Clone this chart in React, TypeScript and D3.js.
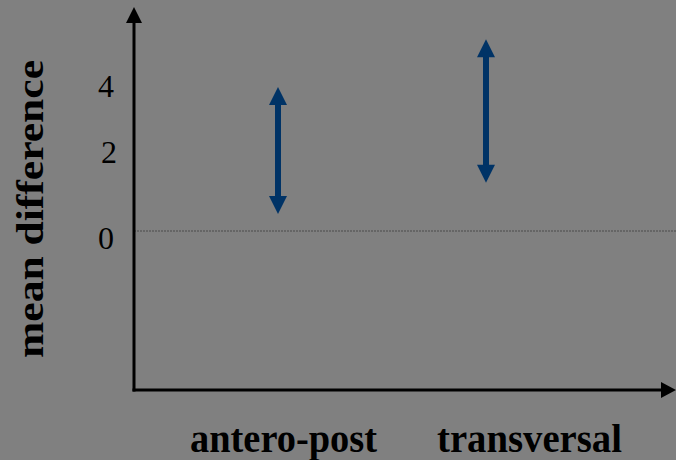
import React from "react";
import * as d3 from "d3";

const categories: string[] = ["antero-post", "transversal"];
const lowerValues: number[] = [0.46, 1.31];
const upperValues: number[] = [3.92, 5.22];
const yTicks: number[] = [0, 2, 4];
const yLabel = "mean difference";

const W = 676;
const H = 460;
const AXIS_X = 134;
const AXIS_Y = 390;
const NAVY = "#003366";
const FONT = "'Liberation Serif', 'Times New Roman', serif";

export default function App() {
  const y = d3.scaleLinear().domain([0, 4]).range([231, 84]);
  // tick-label placement as laid out in the original (slightly uneven)
  const yLab = d3.scaleLinear().domain([0, 2, 4]).range([238, 152, 86]);
  const x = d3.scaleLinear().domain([0, 1]).range([278, 486]);
  const labelX = d3.scaleLinear().domain([0, 1]).range([283.5, 529.5]);
  const labelLen = [187, 185];

  const head = 18;
  const headW = 9;

  const arrow = (cx: number, top: number, bottom: number, key: number) => {
    const upPath = d3.path();
    upPath.moveTo(cx, top);
    upPath.lineTo(cx - headW, top + head);
    upPath.lineTo(cx + headW, top + head);
    upPath.closePath();
    const downPath = d3.path();
    downPath.moveTo(cx, bottom);
    downPath.lineTo(cx - headW, bottom - head);
    downPath.lineTo(cx + headW, bottom - head);
    downPath.closePath();
    return (
      <g key={key}>
        <line x1={cx} x2={cx} y1={top + head - 1} y2={bottom - head + 1} stroke={NAVY} strokeWidth={6} />
        <path d={upPath.toString()} fill={NAVY} />
        <path d={downPath.toString()} fill={NAVY} />
      </g>
    );
  };

  return (
    <svg
      width={W}
      height={H}
      style={{ position: "absolute", left: 0, top: 0, display: "block" }}
    >
      <rect x={0} y={0} width={W} height={H} fill="#808080" />
      {/* zero line */}
      <line x1={AXIS_X} x2={W} y1={y(0)} y2={y(0)} stroke="#4a4a4a" strokeWidth={1} strokeDasharray="2,1" />
      {/* y axis */}
      <line x1={AXIS_X} x2={AXIS_X} y1={20} y2={AXIS_Y + 1.5} stroke="#000" strokeWidth={3} />
      <path d={`M${AXIS_X},7 L${AXIS_X - 8},23 L${AXIS_X + 8},23 Z`} fill="#000" />
      {/* x axis */}
      <line x1={AXIS_X - 1.5} x2={W - 12} y1={AXIS_Y} y2={AXIS_Y} stroke="#000" strokeWidth={3} />
      <path d={`M${W},${AXIS_Y} L${W - 15},${AXIS_Y - 8} L${W - 15},${AXIS_Y + 8} Z`} fill="#000" />
      {/* y tick labels */}
      {yTicks.map((t) => (
        <text
          key={t}
          x={t === 2 ? 117 : 114}
          y={yLab(t)}
          textAnchor="end"
          dominantBaseline="central"
          fontFamily={FONT}
          fontSize={32}
          fill="#000"
        >
          {t}
        </text>
      ))}
      {/* arrows */}
      {categories.map((_, i) => arrow(x(i), y(upperValues[i]), y(lowerValues[i]), i))}
      {/* x labels */}
      {categories.map((c, i) => (
        <text
          key={c}
          x={labelX(i) - labelLen[i] / 2}
          y={452}
          textLength={labelLen[i]}
          lengthAdjust="spacingAndGlyphs"
          fontFamily={FONT}
          fontWeight="bold"
          fontSize={41}
          fill="#000"
        >
          {c}
        </text>
      ))}
      {/* y label */}
      <text
        transform={`translate(43,358) rotate(-90)`}
        textLength={298}
        lengthAdjust="spacingAndGlyphs"
        fontFamily={FONT}
        fontWeight="bold"
        fontSize={38}
        fill="#000"
      >
        {yLabel}
      </text>
    </svg>
  );
}
